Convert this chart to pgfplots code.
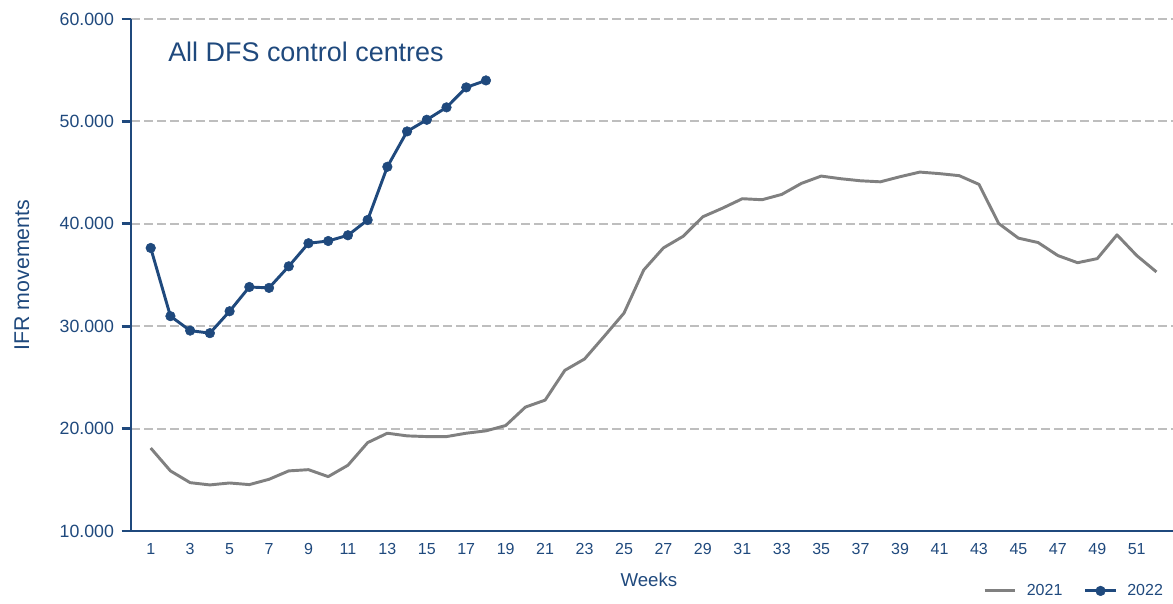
\documentclass[border=0pt]{standalone}
\usepackage{pgfplots}
\pgfplotsset{compat=1.18}
\usepackage{fontspec}
\setmainfont{Liberation Sans}
\definecolor{navy}{RGB}{31,73,125}
\definecolor{line21}{RGB}{128,128,128}
\definecolor{gridc}{RGB}{190,190,190}
\begin{document}
\begin{tikzpicture}
\path[use as bounding box] (0,0) rectangle (879.75pt,452.25pt);
\begin{axis}[
  at={(98.25pt,54pt)}, anchor=south west,
  scale only axis, width=781.5pt, height=384pt,
  xmin=0, xmax=52.84, ymin=10000, ymax=60000,
  axis x line=bottom, axis y line=left,
  axis line style={navy, line width=2pt, -},
  /pgf/number format/assume math mode=true,
  scaled y ticks=false,
  xtick={1,3,...,51},
  minor xtick={1,2,...,52},
  ytick={10000,20000,30000,40000,50000,60000},
  yticklabels={10.000,20.000,30.000,40.000,50.000,60.000},
  tick align=outside,
  major tick length=7pt,
  minor tick length=2.5pt,
  xtick style={draw=none},
  ytick style={navy, line width=2pt},
  minor tick style={navy, line width=1.8pt},
  ymajorgrids,
  major grid style={gridc, line width=1.5pt, dash pattern=on 6.75pt off 3pt},
  ticklabel style={text=navy},
  yticklabel style={font=\fontsize{13.3pt}{15pt}\selectfont, xshift=-2.25pt},
  xticklabel style={font=\fontsize{12pt}{14pt}\selectfont, yshift=1.5pt},
  xlabel={Weeks},
  ylabel={IFR movements},
  label style={text=navy},
  xlabel style={font=\fontsize{14pt}{16pt}\selectfont, at={(axis description cs:0.497,-0.0957)}, anchor=center},
  ylabel style={font=\fontsize{16pt}{18pt}\selectfont, at={(axis description cs:-0.1046,0.5)}, anchor=center},
  legend columns=2,
  legend style={at={(axis description cs:0.997,-0.117)}, anchor=east, draw=none, fill=none,
    font=\fontsize{12pt}{14pt}\selectfont, text=navy,
    /tikz/every odd column/.append style={column sep=5.5pt},
    /tikz/every even column/.append style={column sep=14pt}},
  legend image code/.code={\draw[mark repeat=2,mark phase=2] plot coordinates {(0pt,0pt) (11.5pt,0pt) (23pt,0pt)};},
  clip=false,
]
\addplot[line21, line width=2.2pt, line join=round] coordinates {
(1,18100) (2,15870) (3,14720) (4,14500) (5,14690) (6,14530) (7,15050) (8,15870)
(9,15990) (10,15310) (11,16420) (12,18630) (13,19550) (14,19290) (15,19220) (16,19220)
(17,19550) (18,19780) (19,20300) (20,22100) (21,22780) (22,25690) (23,26800) (24,29020)
(25,31280) (26,35490) (27,37650) (28,38780) (29,40690) (30,41530) (31,42450) (32,42350)
(33,42870) (34,43950) (35,44660) (36,44400) (37,44200) (38,44100) (39,44600) (40,45050)
(41,44900) (42,44700) (43,43850) (44,40030) (45,38600) (46,38170) (47,36900) (48,36200)
(49,36600) (50,38920) (51,36900) (52,35300)
};
\addlegendentry{2021}
\addplot[navy, line width=2.2pt, line join=round, mark=*, mark size=3.6pt, mark options={solid, fill=navy, draw=navy, line width=0.4pt}] coordinates {
(1,37640) (2,30980) (3,29570) (4,29320) (5,31460) (6,33830) (7,33740) (8,35850)
(9,38100) (10,38320) (11,38880) (12,40370) (13,45570) (14,49020) (15,50160) (16,51370)
(17,53320) (18,54000)
};
\addlegendentry{2022}
\node[anchor=west, inner sep=0pt, text=navy, font=\fontsize{20.2pt}{23pt}\selectfont] at (axis description cs:0.0355,0.9355) {All DFS control centres};
\end{axis}
\end{tikzpicture}
\end{document}
